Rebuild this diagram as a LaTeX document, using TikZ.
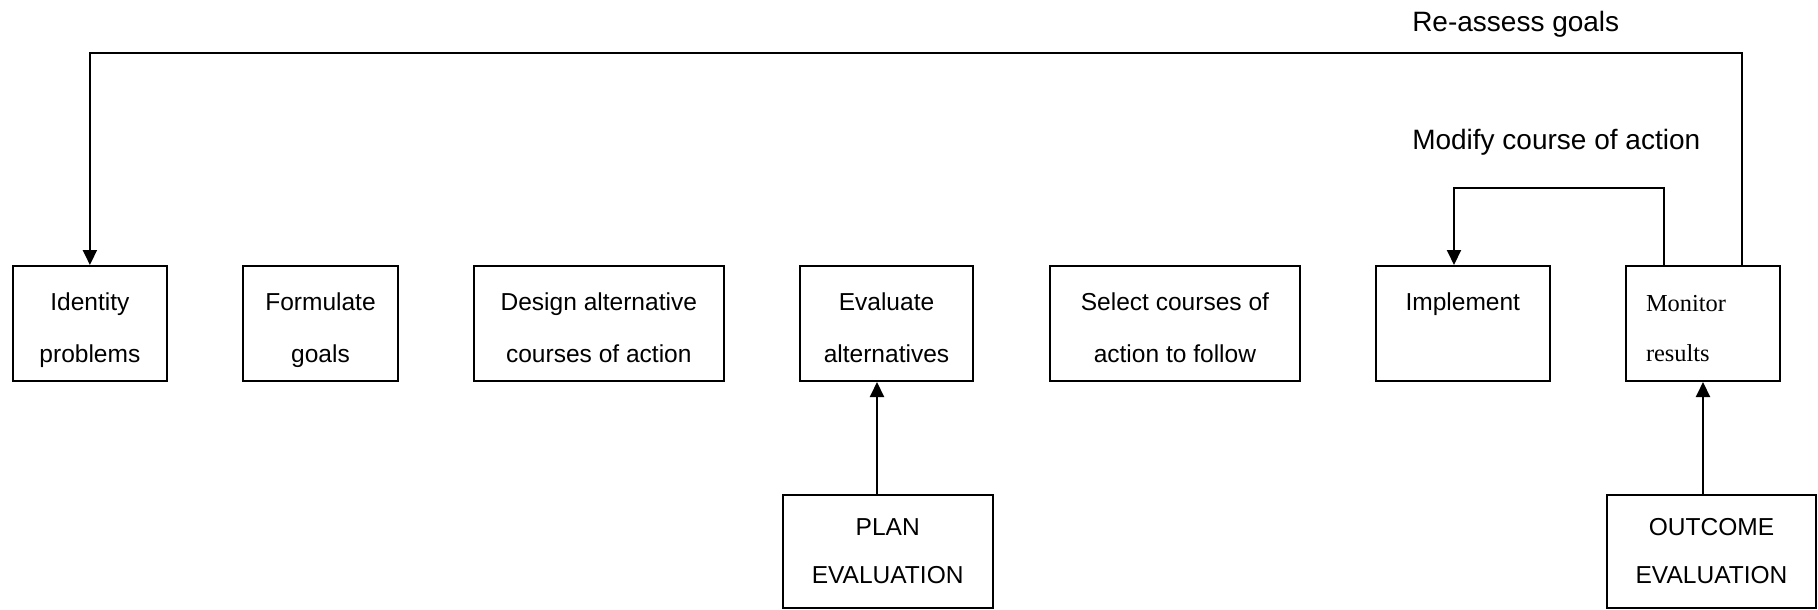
\documentclass[tikz,border=0pt]{standalone}
\usepackage{fontspec}
\setmainfont{Liberation Sans}
\newfontfamily\timesfont{Liberation Serif}
\usetikzlibrary{arrows.meta}
\newcommand\upstrut{\rule[-3pt]{0pt}{26pt}}
\newcommand\lowstrut{\rule[-2pt]{0pt}{17pt}}
\begin{document}
\begin{tikzpicture}[x=0.75pt,y=-0.75pt,
  box/.style={draw, line width=1.5pt, minimum height=86.25pt, inner sep=0pt, align=center,
    font=\fontsize{18.4}{39}\selectfont},
  lowbox/.style={draw, line width=1.5pt, minimum height=85.1pt, inner sep=0pt, align=center,
    font=\fontsize{18.4}{36}\selectfont},
  arr/.style={line width=1.5pt, -{Triangle[length=11.25pt,width=10.5pt]}},
  lbl/.style={inner sep=0pt, anchor=base west, font=\fontsize{21}{25}\selectfont}]
\useasboundingbox[fill=white] (0,0) rectangle (1818,610);
% top row
\node[box, minimum width=115.5pt] (ident) at (89.9,323.5) {\upstrut Identity\\\upstrut problems};
\node[box, minimum width=116.25pt] (form) at (320.5,323.5) {\upstrut Formulate\\\upstrut goals};
\node[box, minimum width=187.9pt] (design) at (598.8,323.5) {\upstrut Design alternative\\\upstrut courses of action};
\node[box, minimum width=129.75pt] (evalu) at (886.5,323.5) {\upstrut Evaluate\\\upstrut alternatives};
\node[box, minimum width=187.3pt] (select) at (1174.9,323.5) {\upstrut Select courses of\\\upstrut action to follow};
\node[box, minimum width=130.2pt] (impl) at (1462.8,323.5) {\upstrut Implement\\\upstrut};
\node[box, minimum width=115.5pt, align=left, inner xsep=15pt, text width=85.5pt,
  font=\timesfont\fontsize{18.3}{37.5}\selectfont] (monit) at (1703,323.5) {\upstrut Monitor\\\upstrut results};
% bottom row
\node[lowbox, minimum width=157.5pt] (plan) at (887.7,551.3) {\lowstrut PLAN\\\lowstrut EVALUATION};
\node[lowbox, minimum width=156.75pt] (outc) at (1711.5,551.3) {\lowstrut OUTCOME\\\lowstrut EVALUATION};
% labels
\node[lbl] (lra) at (1412,32) {Re-assess goals};
\node[lbl] (lmc) at (1412,150) {Modify course of action};
% connectors
\coordinate (ra) at (1742,53);
\coordinate (mcr) at (1664.3,188);
\coordinate (mcl) at (1454,188);
\coordinate (pl) at (877,0);
\draw[arr] (monit.north -| ra) -- (ra) -| (ident.north);
\draw[arr] (monit.north -| mcr) -- (mcr) -- (mcl) -- (impl.north -| mcl);
\draw[arr] (plan.north -| pl) -- (evalu.south -| pl);
\draw[arr] (outc.north -| monit.south) -- (monit.south);
\end{tikzpicture}
\end{document}
